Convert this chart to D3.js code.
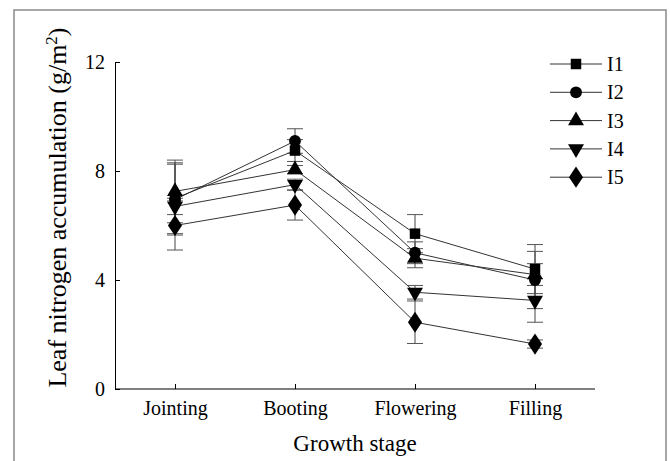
<!DOCTYPE html>
<html><head><meta charset="utf-8">
<script src="https://cdn.jsdelivr.net/npm/d3@7"></script>
<style>body{margin:0;background:#fff}svg{display:block}</style>
</head><body><svg id="c" width="670" height="461"></svg>
<script>
const stages = ["Jointing","Booting","Flowering","Filling"];
const seriesNames = ["I1","I2","I3","I4","I5"];
const I1 = [7.0, 8.75, 5.7, 4.4];
const I2 = [6.95, 9.1, 5.0, 4.0];
const I3 = [7.25, 8.05, 4.8, 4.2];
const I4 = [6.7, 7.5, 3.55, 3.25];
const I5 = [6.0, 6.75, 2.45, 1.65];
const E1 = [1.3, 0.4, 0.7, 0.9];
const E2 = [1.3, 0.45, 0.4, 1.05];
const E3 = [1.15, 0.15, 0.35, 0.4];
const E4 = [0.3, 0.2, 0.25, 0.8];
const E5 = [0.9, 0.55, 0.78, 0.15];
const yTicks = [0,4,8,12];
const shapes = [d3.symbolSquare, d3.symbolCircle, d3.symbolTriangle, "down", d3.symbolDiamond];

const FONT = "Liberation Serif";
const values = [I1,I2,I3,I4,I5], errs = [E1,E2,E3,E4,E5];
const svg = d3.select("#c");
const L = 115, R = 595, T = 62, B = 389;
const x = d3.scalePoint().domain(stages).range([L,R]).padding(0.5);
const y = d3.scaleLinear().domain([0,12]).range([B,T]);

svg.append("rect").attr("x",14).attr("y",10).attr("width",652).attr("height",470)
  .attr("fill","none").attr("stroke","#8a8a8a").attr("stroke-width",1.5);

const gx = svg.append("g").attr("transform",`translate(0,${B})`)
  .call(d3.axisBottom(x).tickSizeInner(-5).tickSizeOuter(0).tickPadding(12));
gx.select(".domain").attr("d",`M${L},0H${R}`);
const gy = svg.append("g").attr("transform",`translate(${L},0)`)
  .call(d3.axisLeft(y).tickValues(yTicks).tickSizeInner(-5).tickSizeOuter(0).tickPadding(10));
[gx,gy].forEach(g=>{
  g.attr("font-family",FONT);
  g.selectAll("text").style("font-family",FONT).style("font-size","20px").attr("fill","#000");
  g.selectAll("line,path").attr("stroke","#000").attr("stroke-width",1);
});
gx.selectAll("text").attr("dy","0.71em");

svg.append("text").attr("x",(L+R)/2).attr("y",451).attr("text-anchor","middle")
  .style("font-family",FONT).style("font-size","23px").text("Growth stage");
const yl = svg.append("text").attr("transform",`translate(66,${(28+387)/2}) rotate(-90)`)
  .attr("text-anchor","middle").style("font-family",FONT).style("font-size","26px");
yl.append("tspan").text("Leaf nitrogen accumulation (g/m");
yl.append("tspan").attr("baseline-shift","super").style("font-size","17px").text("2");
yl.append("tspan").text(")");

function sym(s, size){
  if(s==="down") return d3.symbol().type(d3.symbolTriangle).size(size)();
  return d3.symbol().type(s).size(size)();
}
const sizes = [110, 110, 110, 110, 130];
function marker(g, i, cx, cy){
  const p = g.append("path").attr("d", sym(shapes[i], sizes[i])).attr("fill","#000");
  let tr = `translate(${cx},${cy})`;
  if(shapes[i]==="down") tr += " rotate(180)";
  if(shapes[i]===d3.symbolDiamond) tr += " scale(1.15,1)";
  p.attr("transform", tr);
}

const eg = svg.append("g");
values.forEach((vals,i)=>{
  vals.forEach((v,j)=>{
    const cx = x(stages[j]), e = errs[i][j];
    eg.append("line").attr("x1",cx).attr("x2",cx).attr("y1",y(v+e)).attr("y2",y(v-e)).attr("stroke","#444").attr("stroke-width",1);
    [v+e, v-e].forEach(w=>eg.append("line").attr("x1",cx-8).attr("x2",cx+8).attr("y1",y(w)).attr("y2",y(w)).attr("stroke","#555").attr("stroke-width",1));
  });
});
const line = d3.line().x((d,j)=>x(stages[j])).y(d=>y(d));
values.forEach((vals,i)=>{
  svg.append("path").attr("d",line(vals)).attr("fill","none").attr("stroke","#333").attr("stroke-width",1);
});
const mg = svg.append("g");
values.forEach((vals,i)=>vals.forEach((v,j)=>marker(mg,i,x(stages[j]),y(v))));

const lg = svg.append("g");
seriesNames.forEach((n,i)=>{
  const ly = 64 + i*28.3;
  lg.append("line").attr("x1",550).attr("x2",602).attr("y1",ly).attr("y2",ly).attr("stroke","#333").attr("stroke-width",1);
  marker(lg,i,576,ly);
  lg.append("text").attr("x",607).attr("y",ly).attr("dy","0.35em").style("font-family",FONT).style("font-size","20px").attr("fill","#000").text(n);
});
</script></body></html>
